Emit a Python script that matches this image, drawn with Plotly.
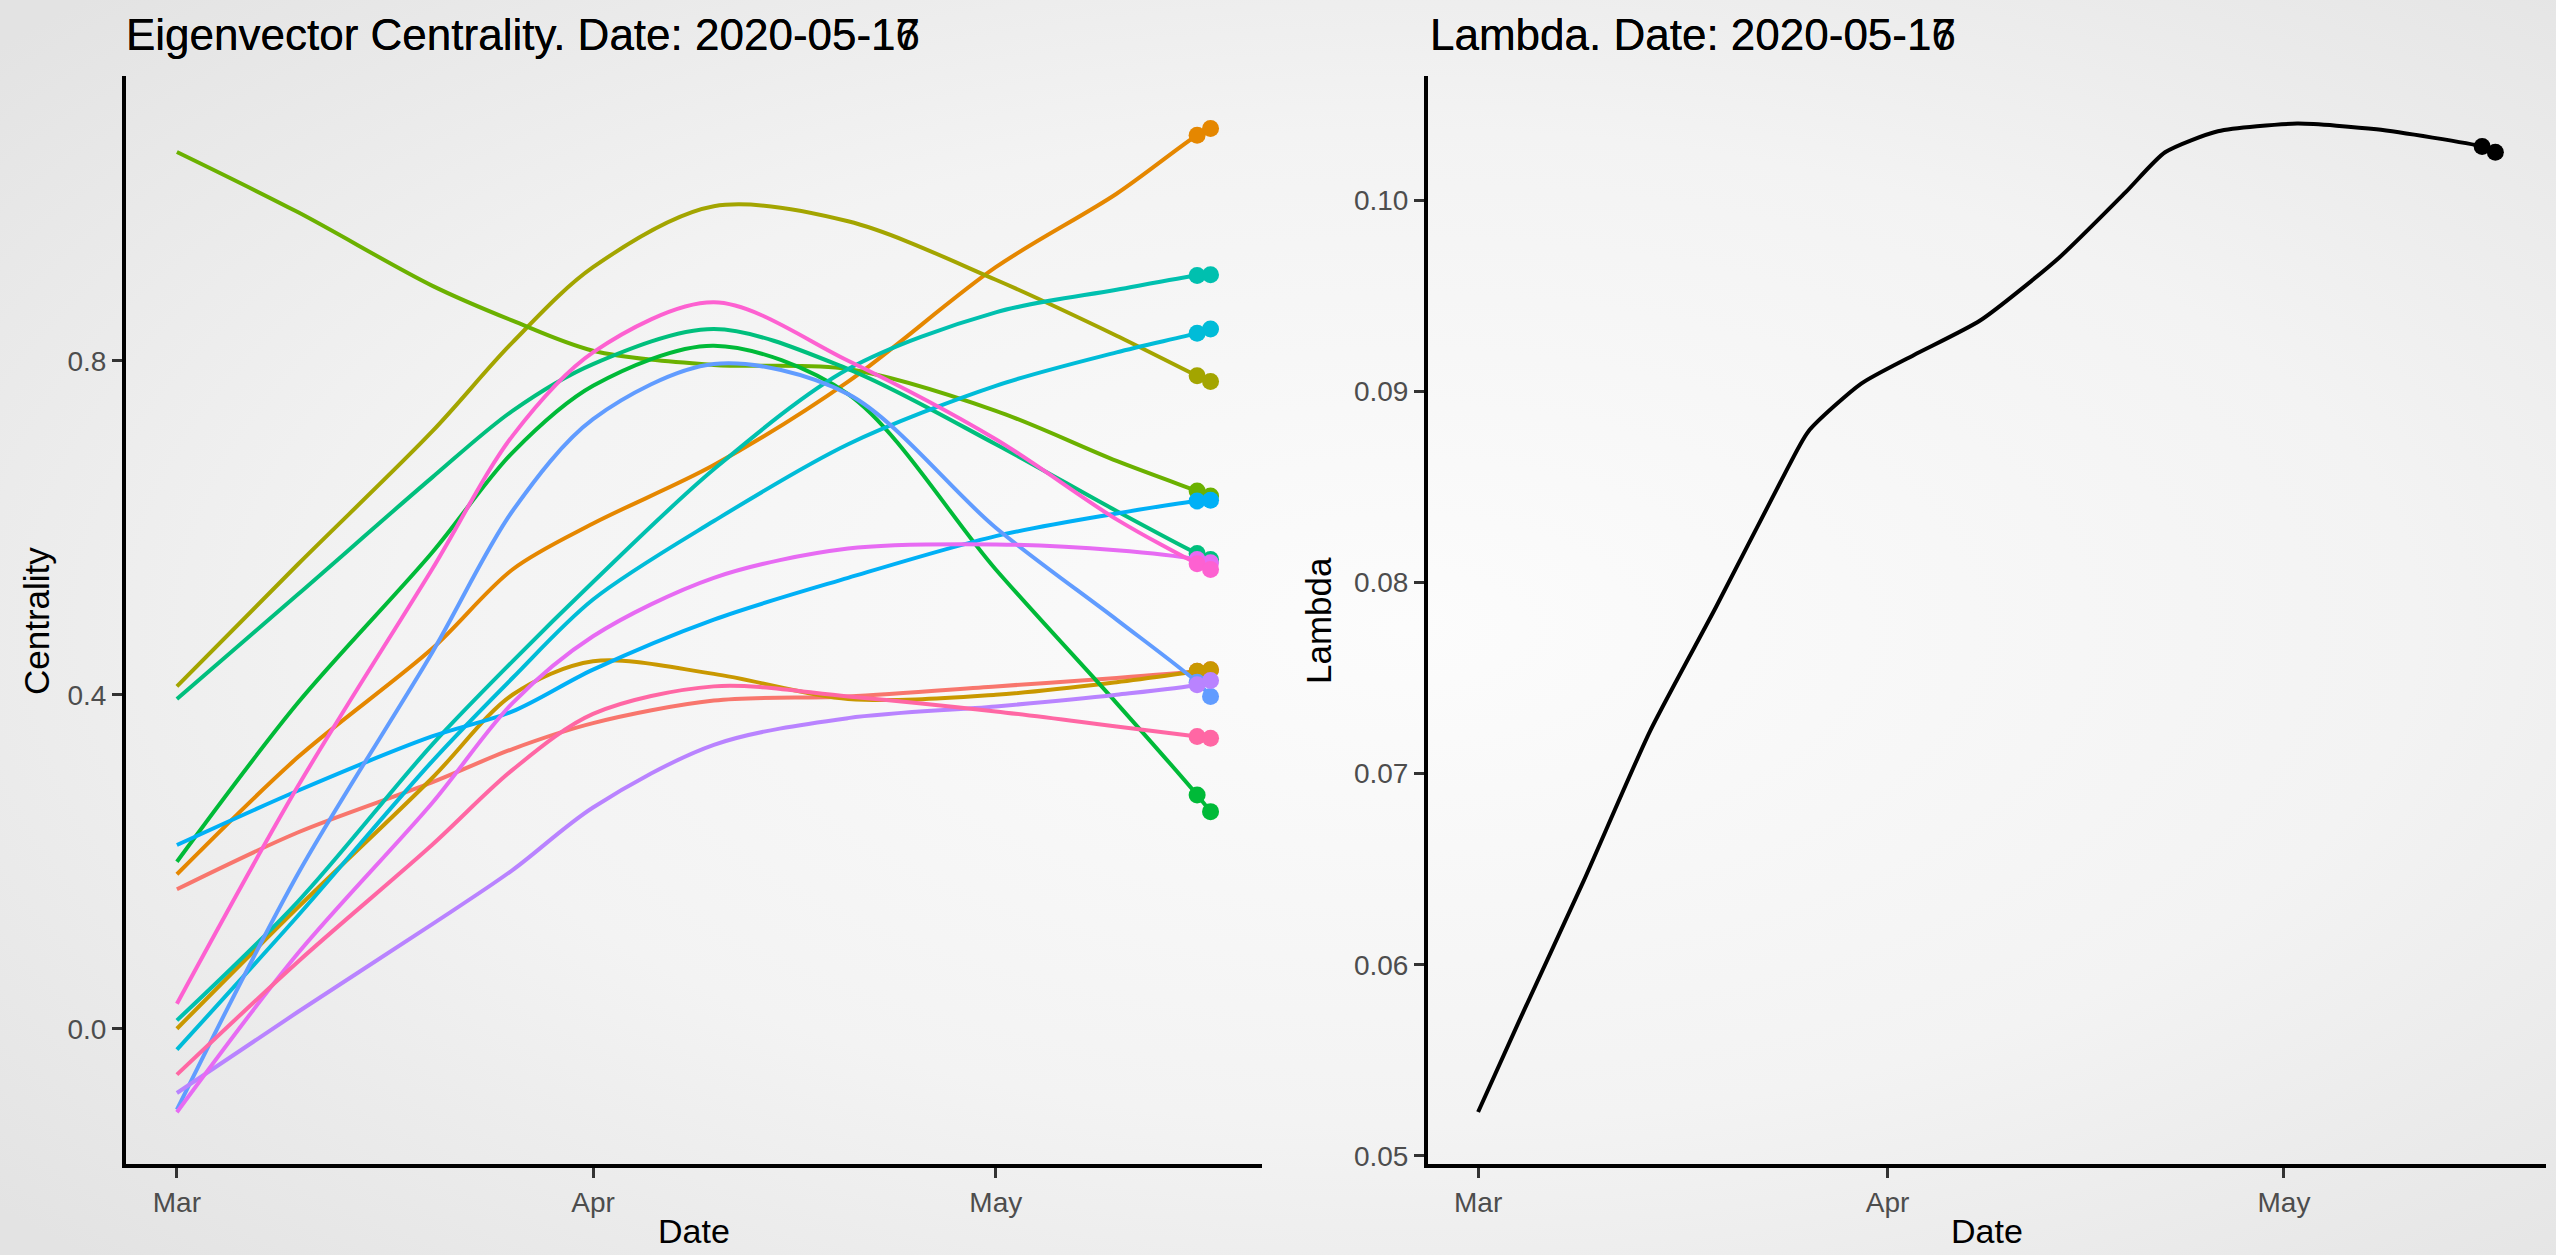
import base64
import plotly.graph_objects as go
from plotly.subplots import make_subplots

# ---------------- data ----------------
dates = ["2020-03-01", "2020-03-10", "2020-03-20", "2020-03-26", "2020-04-01",
         "2020-04-10", "2020-04-20", "2020-05-01", "2020-05-10", "2020-05-16", "2020-05-17"]

c_red        = [0.167, 0.235, 0.295, 0.335, 0.366, 0.393, 0.398, 0.410, 0.420, 0.428, 0.430]
c_orange     = [0.185, 0.325, 0.455, 0.550, 0.605, 0.675, 0.775, 0.912, 1.000, 1.070, 1.078]
c_gold       = [0.000, 0.145, 0.300, 0.400, 0.440, 0.425, 0.395, 0.400, 0.415, 0.428, 0.430]
c_olive      = [0.410, 0.556, 0.715, 0.822, 0.912, 0.985, 0.967, 0.897, 0.830, 0.782, 0.775]
c_yellowgrn  = [1.050, 0.978, 0.890, 0.848, 0.812, 0.795, 0.790, 0.740, 0.680, 0.644, 0.638]
c_green      = [0.200, 0.390, 0.570, 0.690, 0.770, 0.818, 0.760, 0.550, 0.390, 0.280, 0.260]
c_seagreen   = [0.395, 0.520, 0.660, 0.740, 0.796, 0.838, 0.790, 0.700, 0.620, 0.569, 0.562]
c_teal       = [0.010, 0.152, 0.340, 0.440, 0.535, 0.670, 0.790, 0.858, 0.885, 0.902, 0.903]
c_cyan       = [-0.025, 0.135, 0.320, 0.420, 0.514, 0.608, 0.700, 0.770, 0.810, 0.833, 0.838]
c_skyblue    = [0.220, 0.285, 0.350, 0.380, 0.430, 0.490, 0.540, 0.590, 0.617, 0.632, 0.633]
c_blue       = [-0.097, 0.185, 0.450, 0.620, 0.730, 0.796, 0.760, 0.600, 0.490, 0.415, 0.398]
c_purple     = [-0.077, 0.020, 0.125, 0.190, 0.265, 0.340, 0.372, 0.386, 0.400, 0.412, 0.417]
c_magenta    = [-0.100, 0.090, 0.270, 0.390, 0.470, 0.540, 0.575, 0.580, 0.573, 0.562, 0.558]
c_pink       = [0.030, 0.290, 0.550, 0.710, 0.810, 0.870, 0.800, 0.706, 0.610, 0.557, 0.550]
c_rose       = [-0.055, 0.080, 0.220, 0.310, 0.377, 0.410, 0.398, 0.380, 0.362, 0.350, 0.348]

lambda_dates = ["2020-03-01", "2020-03-04", "2020-03-09", "2020-03-14", "2020-03-19",
                "2020-03-24", "2020-03-26", "2020-03-30", "2020-04-03", "2020-04-08",
                "2020-04-14", "2020-04-19", "2020-04-22", "2020-04-26", "2020-05-02",
                "2020-05-08", "2020-05-16", "2020-05-17"]
lambda_vals = [0.0523, 0.0569, 0.0644, 0.0722, 0.0787, 0.0854, 0.0879, 0.0904, 0.0919,
               0.0937, 0.0970, 0.1004, 0.1025, 0.1036, 0.1040, 0.1037, 0.1028, 0.1025]

frame_dates = ["2020-05-16", "2020-05-17"]
x_ticks = ["2020-03-01", "2020-04-01", "2020-05-01"]
x_tick_labels = ["Mar", "Apr", "May"]
left_y_ticks = [0.0, 0.4, 0.8]
left_y_labels = ["0.0", "0.4", "0.8"]
right_y_ticks = [0.05, 0.06, 0.07, 0.08, 0.09, 0.10]
right_y_labels = ["0.05", "0.06", "0.07", "0.08", "0.09", "0.10"]

series = [c_red, c_orange, c_gold, c_olive, c_yellowgrn, c_green, c_seagreen, c_teal,
          c_cyan, c_skyblue, c_blue, c_purple, c_magenta, c_pink, c_rose]
colors = ["#F8766D", "#E58700", "#C99800", "#A3A500", "#6BB100", "#00BA38", "#00BF7D",
          "#00C0AF", "#00BCD8", "#00B0F6", "#619CFF", "#B983FF", "#E76BF3", "#FD61D1",
          "#FF67A4"]

# ---------------- figure ----------------
W, H = 2556, 1255
PT, PB = 76, 1164          # plot area top / bottom in px
PH = PB - PT

def py(px):                # pixel y -> paper y
    return (PB - px) / PH

fig = make_subplots(rows=1, cols=2)

for vals, col in zip(series, colors):
    fig.add_trace(go.Scatter(x=dates, y=vals, mode="lines",
                             line=dict(color=col, width=4, shape="spline", smoothing=0.9),
                             showlegend=False, hoverinfo="skip"), row=1, col=1)
    end_vals = [vals[dates.index(d)] for d in frame_dates]
    fig.add_trace(go.Scatter(x=frame_dates, y=end_vals, mode="markers",
                             marker=dict(color=col, size=17),
                             showlegend=False, hoverinfo="skip"), row=1, col=1)

fig.add_trace(go.Scatter(x=lambda_dates, y=lambda_vals, mode="lines",
                         line=dict(color="black", width=4, shape="spline", smoothing=0.6),
                         showlegend=False, hoverinfo="skip"), row=1, col=2)
fig.add_trace(go.Scatter(x=frame_dates,
                         y=[lambda_vals[lambda_dates.index(d)] for d in frame_dates],
                         mode="markers", marker=dict(color="black", size=17),
                         showlegend=False, hoverinfo="skip"), row=1, col=2)

axis_common = dict(showline=True, linecolor="black", linewidth=4, showgrid=False,
                   zeroline=False, ticks="outside", ticklen=10, tickwidth=3,
                   tickcolor="#333333",
                   tickfont=dict(family="Liberation Sans, Arial", size=28, color="#4D4D4D"))

xr = ["2020-02-26T05:00:00", "2020-05-20T20:00:00"]
fig.update_xaxes(axis_common, tickvals=x_ticks, ticktext=x_tick_labels, range=xr)
fig.update_xaxes(domain=[126 / W, 1262 / W], row=1, col=1)
fig.update_xaxes(domain=[1428 / W, 2546 / W], row=1, col=2)
fig.update_yaxes(axis_common)
fig.update_yaxes(tickvals=left_y_ticks, ticktext=left_y_labels, range=[-0.162, 1.141],
                 row=1, col=1)
fig.update_yaxes(tickvals=right_y_ticks, ticktext=right_y_labels,
                 range=[0.04958, 0.10649], row=1, col=2)

font_fam = "Liberation Sans, Arial, sans-serif"
ann = []
for day in ["2020-05-16", "2020-05-17"]:
    ann.append(dict(text=f"Eigenvector Centrality. Date: {day}", x=124 / W, y=py(34),
                    xref="paper", yref="paper", xanchor="left", yanchor="middle",
                    showarrow=False, font=dict(family=font_fam, size=44, color="black")))
    ann.append(dict(text=f"Lambda. Date: {day}", x=1428 / W, y=py(34),
                    xref="paper", yref="paper", xanchor="left", yanchor="middle",
                    showarrow=False, font=dict(family=font_fam, size=44, color="black")))
ann += [
    dict(text="Date", x=694 / W, y=py(1231), xref="paper", yref="paper",
         xanchor="center", yanchor="middle", showarrow=False,
         font=dict(family=font_fam, size=34, color="black")),
    dict(text="Date", x=1987 / W, y=py(1231), xref="paper", yref="paper",
         xanchor="center", yanchor="middle", showarrow=False,
         font=dict(family=font_fam, size=34, color="black")),
    dict(text="Centrality", x=36 / W, y=py(621), xref="paper", yref="paper",
         xanchor="center", yanchor="middle", textangle=-90, showarrow=False,
         font=dict(family=font_fam, size=35, color="black")),
    dict(text="Lambda", x=1318 / W, y=py(621), xref="paper", yref="paper",
         xanchor="center", yanchor="middle", textangle=-90, showarrow=False,
         font=dict(family=font_fam, size=35, color="black")),
]

svg = ("<svg xmlns='http://www.w3.org/2000/svg' width='2556' height='1255' "
       "viewBox='0 0 2556 1255' preserveAspectRatio='none'><defs>"
       "<radialGradient id='g' cx='0.55' cy='0.5' r='0.72'>"
       "<stop offset='0' stop-color='#fcfcfc'/><stop offset='0.55' stop-color='#f3f3f3'/>"
       "<stop offset='1' stop-color='#e3e3e3'/></radialGradient></defs>"
       "<rect width='2556' height='1255' fill='url(#g)'/></svg>")
bg_src = "data:image/svg+xml;base64," + base64.b64encode(svg.encode()).decode()

fig.update_layout(
    width=W, height=H,
    margin=dict(l=0, r=0, t=PT, b=H - PB),
    paper_bgcolor="#f0f0f0", plot_bgcolor="rgba(0,0,0,0)",
    annotations=ann,
    images=[dict(source=bg_src, xref="paper", yref="paper", x=0, y=1 + PT / PH,
                 sizex=1, sizey=H / PH, xanchor="left", yanchor="top",
                 sizing="stretch", layer="below")],
)

fig.write_html("out.html")
